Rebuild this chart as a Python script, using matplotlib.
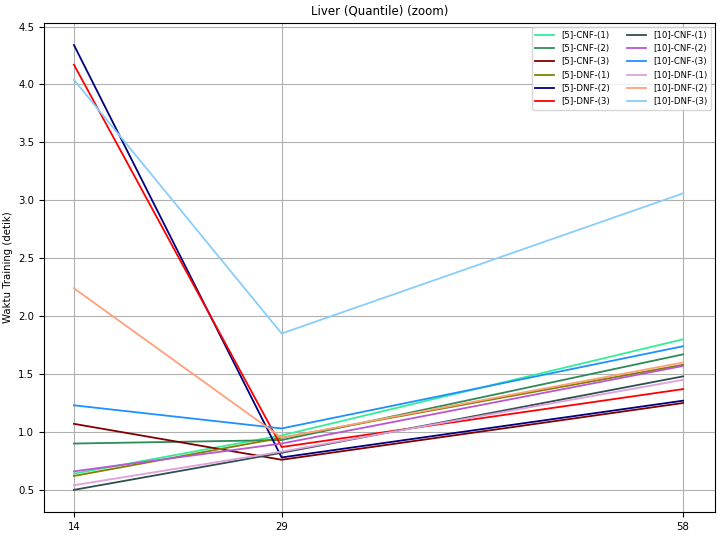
import matplotlib
matplotlib.use("Agg")
import matplotlib.pyplot as plt

plt.rcParams["font.size"] = 7.3

x = [14, 29, 58]
labels = ["[5]-CNF-(1)", "[5]-CNF-(2)", "[5]-CNF-(3)", "[5]-DNF-(1)", "[5]-DNF-(2)", "[5]-DNF-(3)",
          "[10]-CNF-(1)", "[10]-CNF-(2)", "[10]-CNF-(3)", "[10]-DNF-(1)", "[10]-DNF-(2)", "[10]-DNF-(3)"]
values = [
    [0.64, 0.97, 1.80],
    [0.90, 0.93, 1.67],
    [1.07, 0.76, 1.25],
    [0.62, 0.95, 1.58],
    [4.34, 0.78, 1.27],
    [4.17, 0.87, 1.37],
    [0.50, 0.82, 1.48],
    [0.66, 0.90, 1.57],
    [1.23, 1.03, 1.74],
    [0.54, 0.83, 1.45],
    [2.24, 0.95, 1.60],
    [4.04, 1.85, 3.06],
]
colors = ["#33ee99", "seagreen", "maroon", "olive", "navy", "red",
          "darkslategray", "mediumorchid", "dodgerblue", "plum", "lightsalmon", "lightskyblue"]

fig, ax = plt.subplots(figsize=(7.2, 5.36), dpi=100)
for lab, v, c in zip(labels, values, colors):
    ax.plot(x, v, color=c, label=lab, linewidth=1.3)
ax.set_xticks(x)
ax.set_yticks([0.5, 1.0, 1.5, 2.0, 2.5, 3.0, 3.5, 4.0, 4.5])
ax.set_xlim(11.83, 60.3)
ax.set_ylim(0.31, 4.53)
ax.grid(True, color="#b0b0b0", linewidth=0.8)
ax.set_ylabel("Waktu Training (detik)")
ax.set_title("Liver (Quantile) (zoom)", fontsize=8.5)
ax.legend(ncol=2, fontsize=6.2, loc="upper right", handlelength=2.2)
fig.subplots_adjust(left=0.061, right=0.993, top=0.957, bottom=0.045)
fig.savefig("out.png")
